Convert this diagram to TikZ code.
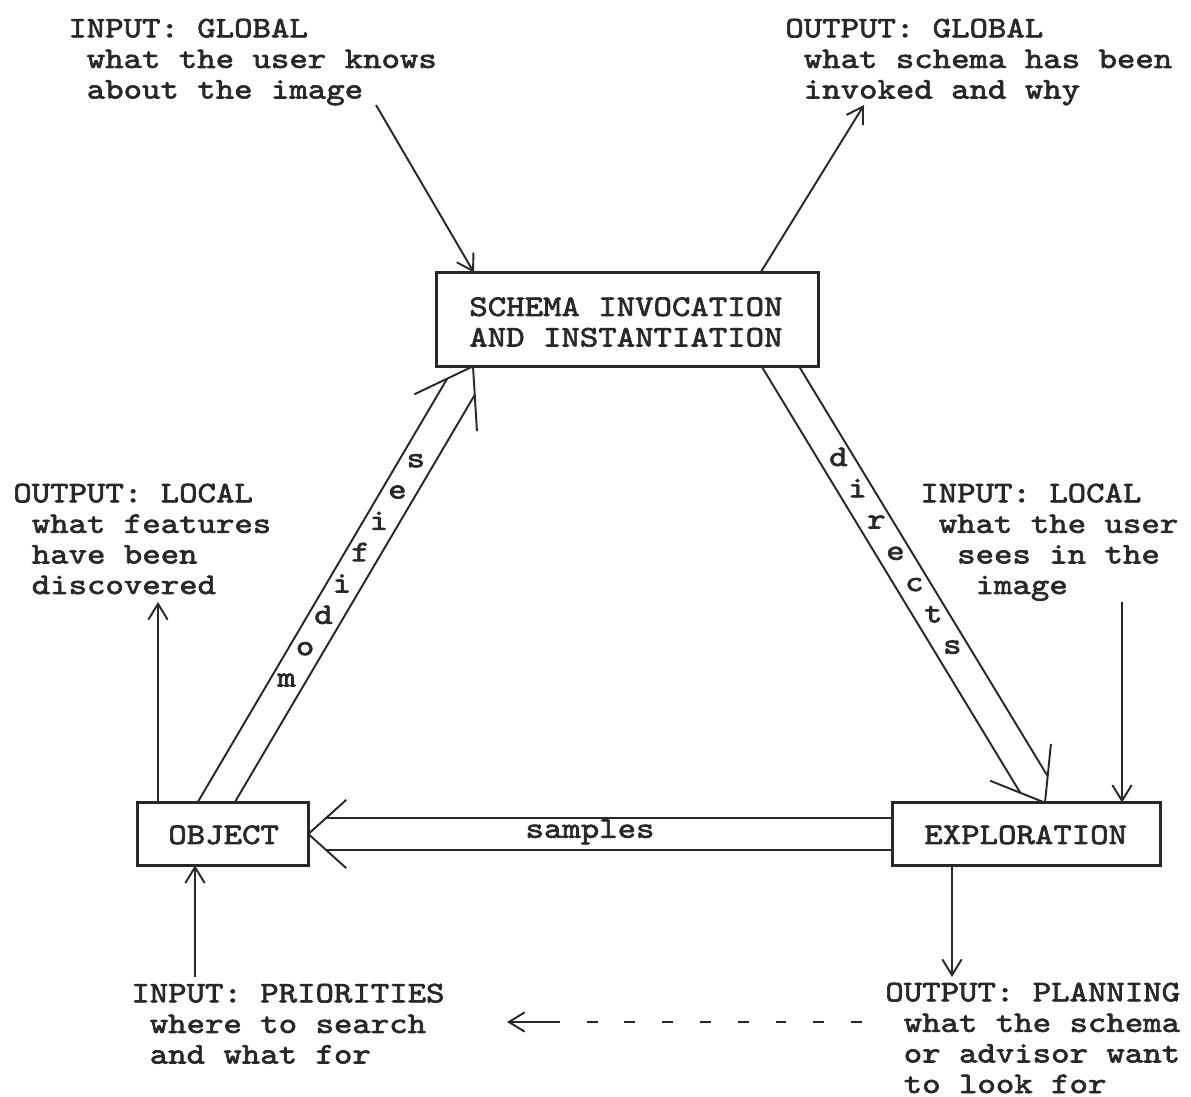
\documentclass[tikz,border=0pt]{standalone}
\usepackage{fontspec}
\usetikzlibrary{calc,arrows.meta}
% typewriter face, widened to a Courier-like pitch
\newfontfamily\tw{lmmono10-regular.otf}[FakeStretch=1.175,FakeBold=2.2]
\definecolor{inkc}{RGB}{40,40,40}
\pgfdeclarelayer{bg}
\pgfsetlayers{bg,main}

% double-line arrow with an open head: #1 tail, #2 tip, #3 barb length, #4 barb angle
\newcommand\hollowarrow[4]{%
  \pgfmathsetmacro\hbback{0.32/tan(#4)}%
  \draw[hollow] ($(#2)!#3!#4:(#1)$) -- (#2) -- ($(#2)!#3!-#4:(#1)$);
  \draw[hollow] ($(#1)!0.32cm!90:(#2)$) -- ($(#2)!\hbback cm!(#1)!0.32cm!-90:(#1)$);
  \draw[hollow] ($(#1)!0.32cm!-90:(#2)$) -- ($(#2)!\hbback cm!(#1)!0.32cm!90:(#1)$);
}

\begin{document}
\begin{tikzpicture}[x=0.02cm,y=-0.02cm,
  font={\tw\fontsize{17pt}{17.4pt}\selectfont}, color=inkc,
  box/.style={inner sep=0pt},
  boxtext/.style={anchor=base west, inner sep=0pt, align=left},
  frame/.style={draw=inkc, line width=1.4pt, fill=white},
  note/.style={anchor=base west, inner sep=0pt, align=left},
  thin/.style={draw=inkc, line width=1.1pt, -{Straight Barb[length=9pt,width=11pt]}},
  hollow/.style={draw=inkc, line width=1.1pt, line join=miter},
  letter/.style={inner sep=0pt, text height=0.43em, text depth=0pt}]

\path[use as bounding box] (0,0) rectangle (1191,1097);

% inputs and outputs (each placed by the baseline of its last line)
\node[note] (inglobal) at (68,98.5)
  {INPUT: GLOBAL\\\hphantom{x}what the user knows\\\hphantom{x}about the image};
\node[note] (outglobal) at (785,98.5)
  {OUTPUT: GLOBAL\\\hphantom{x}what schema has been\\\hphantom{x}invoked and why};
\node[note] (outlocal) at (13,594)
  {OUTPUT: LOCAL\\\hphantom{x}what features\\\hphantom{x}have been\\\hphantom{x}discovered};
\node[note] (inlocal) at (920,594)
  {INPUT: LOCAL\\\hphantom{x}what the user\\\hphantom{xx}sees in the\\\hphantom{xxx}image};
\node[note] (inprio) at (131,1063.5)
  {INPUT: PRIORITIES\\\hphantom{x}where to search\\\hphantom{x}and what for};
\node[note] (outplan) at (885,1093)
  {OUTPUT: PLANNING\\\hphantom{x}what the schema\\\hphantom{x}or advisor want\\\hphantom{x}to look for};

% processes: the frame nodes, then their captions
\node[box, minimum width=7.62cm, minimum height=1.86cm] (schema) at (627.5,319.5) {};
\node[box, minimum width=3.4cm, minimum height=1.24cm] (obj) at (223,834) {};
\node[box, minimum width=5.34cm, minimum height=1.24cm] (expl) at (1026.5,834) {};
\node[boxtext] (schemat) at (469,346.5) {SCHEMA INVOCATION\\AND INSTANTIATION};
\node[boxtext] (objt) at (168,844) {OBJECT};
\node[boxtext] (explt) at (924,844) {EXPLORATION};

% free ends of the single arrows
\coordinate (c1) at (376,105);
\coordinate (c2) at (864,105);
\coordinate (c3) at (158,602);
\coordinate (c4) at (1122,602);
\coordinate (c5) at (952,977);
\coordinate (c6) at (195,977);
\coordinate (d1) at (862,1022);
\coordinate (d3) at (560,1022);
\coordinate (d2) at (507,1022);

\draw[thin] (c1) -- ($(schema.north)+(-153.5,0)$);
\draw[thin] ($(schema.north)+(133,0)$) -- (c2);
\draw[thin] ($(obj.north)+(-65,0)$) -- (c3);
\draw[thin] (c4) -- ($(expl.north)+(95.5,0)$);
\draw[thin] ($(expl.south)+(-74.5,0)$) -- (c5);
\draw[thin] (c6) -- ($(obj.south)+(-28,0)$);

% planning feeds priorities
\draw[thin] (d3) -- (d2);
\draw[draw=inkc, line width=1.1pt, dash pattern=on 6.2pt off 15.3pt] (d1) -- (d3);

% axes of the double arrows
\coordinate (mA) at ($(obj.north)+(-17,17)$);
\coordinate (mB) at ($(schema.south)+(-154.5,0)$);
\coordinate (dA) at ($(schema.south)+(142.5,-17)$);
\coordinate (dB) at ($(expl.north)+(18.5,0)$);
\coordinate (sA) at ($(expl.west)+(15,0)$);
\coordinate (sB) at (obj.east);

\begin{pgfonlayer}{bg}
  \fill[white] (0,0) rectangle (1191,1097);
  \hollowarrow{mA}{mB}{1.3cm}{34}
  \hollowarrow{dA}{dB}{1.18cm}{37}
  \hollowarrow{sA}{sB}{1.02cm}{42}
  % frames of the three processes, over the arrow tails
  \foreach \b in {schema,obj,expl}
    \draw[frame] (\b.south west) rectangle (\b.north east);
\end{pgfonlayer}

% labels spelled along the double arrows
\foreach \ch [count=\i from 0] in {m,o,d,i,f,i,e,s} {
  \pgfmathsetmacro\pp{0.302+0.0691*\i}
  \path (mA) -- (mB) node[letter, pos=\pp] (mod\i) {\ch};
}
\foreach \ch [count=\i from 0] in {d,i,r,e,c,t,s} {
  \pgfmathsetmacro\pp{0.249+0.069*\i}
  \path (dA) -- (dB) node[letter, pos=\pp] (dir\i) {\ch};
}
\path (sA) -- (sB) node[letter, pos=0.53] (samp) {samples};

\end{tikzpicture}
\end{document}
